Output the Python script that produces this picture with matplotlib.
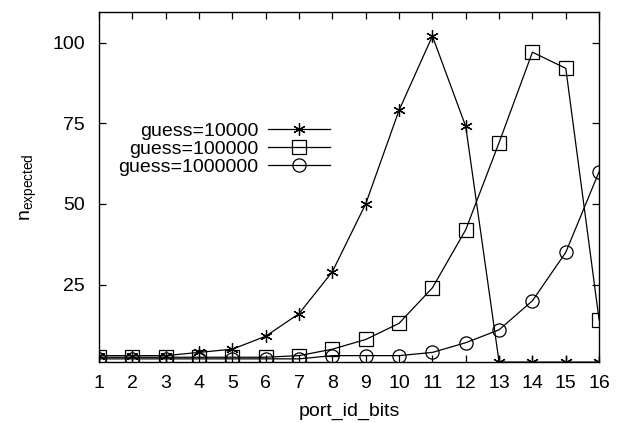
import matplotlib
matplotlib.use('Agg')
import matplotlib.pyplot as plt

plt.rcParams['font.family'] = ['Liberation Sans', 'DejaVu Sans']
plt.rcParams['mathtext.default'] = 'regular'

# data
bits = list(range(1, 17))
g10k = [3, 3, 3, 4, 5, 9, 16, 29, 50, 79, 102, 74, 1, 1, 1, 1]
g100k = [2.5, 2.5, 2.5, 2.5, 2.5, 2.5, 3, 5, 8, 13, 24, 42, 69, 97, 92, 14]
g1m = [2, 2, 2, 2, 2, 2, 2, 3, 3, 3, 4, 7, 11, 20, 35, 60]
labels = ['guess=10000', 'guess=100000', 'guess=1000000']

fig = plt.figure(figsize=(6.3, 4.23), dpi=100)
ax = fig.add_axes([0.157, 0.144, 0.794, 0.828])

ax.plot(bits, g10k, color='black', lw=0.9, marker=(6, 2, 0), ms=9, mew=0.9, label=labels[0])
ax.plot(bits, g100k, color='black', lw=0.9, marker='s', ms=9.5, mfc='none', mew=0.9, label=labels[1])
ax.plot(bits, g1m, color='black', lw=0.9, marker='o', ms=9.5, mfc='none', mew=0.9, label=labels[2])

ax.set_xlim(1, 16)
ax.set_ylim(1, 109.5)
ax.set_xticks(bits)
ax.set_yticks([25, 50, 75, 100])
ax.tick_params(direction='in', top=True, right=True, length=5, width=0.9, labelsize=14)
ax.tick_params(axis='y', pad=10)
ax.tick_params(axis='x', pad=9)
for s in ax.spines.values():
    s.set_linewidth(1.0)

ax.set_xlabel('port_id_bits', fontsize=14, labelpad=8)
ax.set_ylabel('$n_{expected}$', fontsize=14, labelpad=10)

leg = ax.legend(loc='upper right', bbox_to_anchor=(0.462, 0.685), frameon=False,
                markerfirst=False, handlelength=3.2, fontsize=14,
                labelspacing=0.03, borderaxespad=0, borderpad=0, handletextpad=0.5)

fig.savefig('out.png', dpi=100)
